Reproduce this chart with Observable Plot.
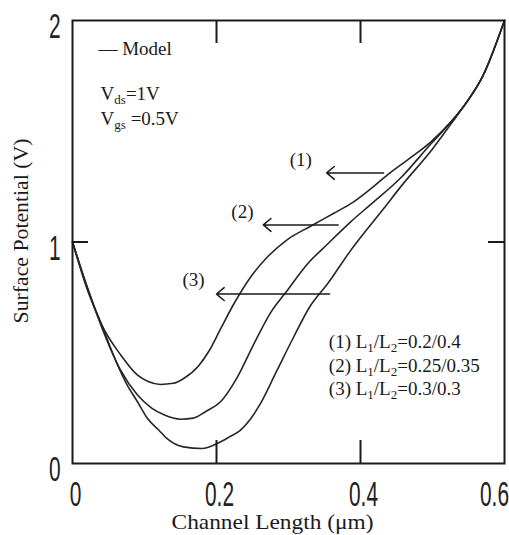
<!DOCTYPE html>
<html><head><meta charset="utf-8">
<script src="https://cdn.jsdelivr.net/npm/d3@7"></script>
<script src="https://cdn.jsdelivr.net/npm/@observablehq/plot@0.6"></script>
<style>
body{margin:0;background:#fff;}
#chart svg{display:block;}
</style></head><body><div id="chart"></div>
<script>
// ---- data ----
const curve1X = [0, 0.02, 0.04, 0.067, 0.09, 0.105, 0.122, 0.14, 0.155, 0.175, 0.19, 0.206, 0.224, 0.247, 0.27, 0.298, 0.33, 0.363, 0.39, 0.418, 0.44, 0.465, 0.497, 0.525, 0.545, 0.57, 0.6];
const curve1Y = [1, 0.80, 0.63, 0.49, 0.40, 0.37, 0.357, 0.362, 0.385, 0.44, 0.51, 0.61, 0.72, 0.84, 0.93, 1.01, 1.07, 1.13, 1.18, 1.25, 1.31, 1.37, 1.45, 1.54, 1.62, 1.75, 2.0];
const curve2X = [0, 0.02, 0.04, 0.067, 0.09, 0.11, 0.127, 0.15, 0.168, 0.185, 0.206, 0.229, 0.252, 0.275, 0.298, 0.326, 0.354, 0.386, 0.418, 0.456, 0.497, 0.525, 0.545, 0.57, 0.6];
const curve2Y = [1, 0.80, 0.62, 0.42, 0.31, 0.25, 0.22, 0.20, 0.205, 0.235, 0.28, 0.39, 0.54, 0.68, 0.78, 0.90, 0.99, 1.09, 1.18, 1.29, 1.44, 1.54, 1.62, 1.75, 2.0];
const curve3X = [0, 0.02, 0.04, 0.062, 0.076, 0.09, 0.104, 0.12, 0.131, 0.154, 0.18, 0.201, 0.218, 0.233, 0.247, 0.261, 0.284, 0.307, 0.33, 0.354, 0.386, 0.4, 0.432, 0.456, 0.5, 0.525, 0.545, 0.57, 0.6];
const curve3Y = [1, 0.79, 0.63, 0.45, 0.354, 0.28, 0.204, 0.15, 0.113, 0.075, 0.068, 0.09, 0.12, 0.15, 0.2, 0.27, 0.42, 0.57, 0.71, 0.81, 0.96, 1.02, 1.15, 1.25, 1.42, 1.53, 1.62, 1.75, 2.0];
const seriesNames = ["(1)", "(2)", "(3)"];

const xTicks = [0, 0.2, 0.4, 0.6];
const yTicks = [0, 1, 2];
const xInnerTicks = [0.2, 0.4];
const yInnerTicks = [1];

const arrowX1 = [0.432, 0.369, 0.357];
const arrowX2 = [0.353, 0.265, 0.2];
const arrowY = [1.312, 1.077, 0.765];
const seriesLabelX = [0.317, 0.236, 0.168];
const seriesLabelY = [1.371, 1.137, 0.828];

const legendLines = ["(1) L_{1}/L_{2}=0.2/0.4", "(2) L_{1}/L_{2}=0.25/0.35", "(3) L_{1}/L_{2}=0.3/0.3"];
const legendX = [0.356, 0.356, 0.356];
const legendY = [0.548, 0.439, 0.335];
const biasLines = ["V_{ds}=1V", "V_{gs} =0.5V"];
const biasX = [0.039, 0.039];
const biasY = [1.67, 1.557];
const modelKey = ["— Model"];
const modelX = [0.036];
const modelY = [1.873];
const xLabel = "Channel Length (μm)";
const yLabel = "Surface Potential (V)";

// ---- build tables ----
const curves = [[curve1X, curve1Y], [curve2X, curve2Y], [curve3X, curve3Y]];
const rows = curves.flatMap(([xs, ys], k) => xs.map((x, i) => ({series: seriesNames[k], x, y: ys[i]})));
const arrows = arrowX1.map((x1, i) => ({x1, x2: arrowX2[i], y: arrowY[i]}));
const seriesLabels = seriesNames.map((t, i) => ({t, x: seriesLabelX[i], y: seriesLabelY[i]}));
const legend = legendLines.map((t, i) => ({t, x: legendX[i], y: legendY[i]}));
const bias = biasLines.map((t, i) => ({t, x: biasX[i], y: biasY[i]}));
const model = modelKey.map((t, i) => ({t, x: modelX[i], y: modelY[i]}));

// ---- layout / style ----
const W = 509, H = 535, mt = 20, mb = 72, ml = 72, mr = 5;
const fw = W - ml - mr, fh = H - mt - mb;
const tickLenX = 23, tickLenY = 16;
const serif = "'Liberation Serif', 'Times New Roman', serif";
const sans = "'Liberation Sans', Arial, sans-serif";
const ink = "#1a1a1a";
const fmt = d => d === 0 ? "0" : String(d);

const plot = Plot.plot({
  width: W, height: H,
  marginTop: mt, marginBottom: mb, marginLeft: ml, marginRight: mr,
  x: {domain: [0, 0.6], axis: null},
  y: {domain: [0, 2], axis: null},
  style: {fontFamily: serif, background: "white", color: ink, overflow: "hidden"},
  marks: [
    Plot.line(rows, {x: "x", y: "y", z: "series", stroke: "#262626", strokeWidth: 1.6, curve: "monotone-x"}),
    Plot.tickX(xInnerTicks, {x: d => d, stroke: ink, strokeWidth: 2, insetTop: fh - tickLenX}),
    Plot.tickX(xInnerTicks, {x: d => d, stroke: ink, strokeWidth: 2, insetBottom: fh - tickLenX}),
    Plot.tickY(yInnerTicks, {y: d => d, stroke: ink, strokeWidth: 2, insetRight: fw - tickLenY}),
    Plot.tickY(yInnerTicks, {y: d => d, stroke: ink, strokeWidth: 2, insetLeft: fw - tickLenY}),
    Plot.frame({stroke: ink, strokeWidth: 2}),
    Plot.text(xTicks.slice(0, -1), {x: d => d, text: fmt, frameAnchor: "bottom", textAnchor: "middle", dy: 42, dx: 3,
      fontFamily: sans, fontSize: 36, fill: "#222", ariaDescription: "ticklab"}),
    Plot.text(xTicks.slice(-1), {x: d => d, text: fmt, frameAnchor: "bottom", textAnchor: "middle", dy: 42, dx: -10,
      fontFamily: sans, fontSize: 36, fill: "#222", ariaDescription: "ticklab"}),
    Plot.text(yTicks, {y: d => d, text: fmt, frameAnchor: "left", textAnchor: "end", dx: -12, dy: 6,
      fontFamily: sans, fontSize: 36, fill: "#222", ariaDescription: "ticklab"}),
    Plot.arrow(arrows, {x1: "x1", x2: "x2", y1: "y", y2: "y", stroke: ink, strokeWidth: 1.5,
      headLength: 10, headAngle: 80}),
    Plot.text(seriesLabels, {x: "x", y: "y", text: "t", fontSize: 19, fill: ink}),
    Plot.text(legend, {x: "x", y: "y", text: "t", textAnchor: "start", fontSize: 19, fill: ink}),
    Plot.text(bias, {x: "x", y: "y", text: "t", textAnchor: "start", fontSize: 19, fill: ink}),
    Plot.text(model, {x: "x", y: "y", text: "t", textAnchor: "start", fontSize: 19, fill: ink}),
    Plot.text([xLabel], {text: d => d, frameAnchor: "bottom", textAnchor: "middle", dx: -16, dy: 65, fontSize: 21, fill: ink, ariaDescription: "xlabel"}),
    Plot.text([yLabel], {text: d => d, frameAnchor: "left", textAnchor: "middle", rotate: -90, dx: -51, dy: -11, fontSize: 21, fill: ink, ariaDescription: "ylabel"})
  ]
});
document.getElementById("chart").append(plot);

// ---- post-processing: subscripts and horizontal scaling of text ----
function scaleText(el, sx) {
  const t = el.getAttribute("transform") || "";
  el.setAttribute("transform", (t + ` scale(${sx},1)`).trim());
}
function textsOf(label) {
  const out = [];
  plot.querySelectorAll(`[aria-description="${label}"]`).forEach(n => {
    if (n.tagName.toLowerCase() === "text") out.push(n);
    else n.querySelectorAll("text").forEach(t => out.push(t));
  });
  return out;
}
d3.select(plot).selectAll("text").each(function () {
  const s = this.textContent;
  if (!s.includes("_{")) return;
  const parts = s.split(/(_\{[^}]*\})/).filter(p => p.length);
  this.textContent = "";
  let shifted = false;
  for (const p of parts) {
    const ts = document.createElementNS("http://www.w3.org/2000/svg", "tspan");
    if (p.startsWith("_{")) {
      ts.textContent = p.slice(2, -1);
      ts.setAttribute("font-size", "13");
      ts.setAttribute("dy", "4");
      shifted = true;
    } else {
      ts.textContent = p;
      if (shifted) { ts.setAttribute("dy", "-4"); shifted = false; }
    }
    this.appendChild(ts);
  }
});
textsOf("ticklab").forEach(el => scaleText(el, 0.58));
function fitTo(label, target) {
  textsOf(label).forEach(el => {
    const len = el.getComputedTextLength();
    if (len > 0) scaleText(el, target / len);
  });
}
fitTo("xlabel", 202);
fitTo("ylabel", 185);
</script></body></html>
